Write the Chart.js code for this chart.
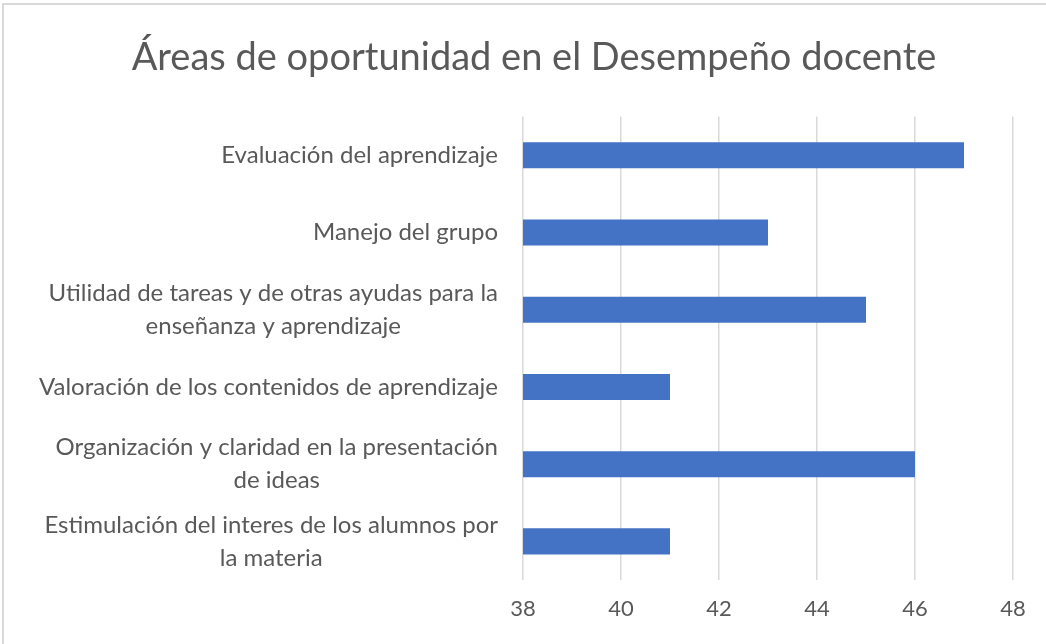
<!DOCTYPE html>
<html>
<head>
<meta charset="utf-8">
<script src="https://cdn.jsdelivr.net/npm/chart.js@4/dist/chart.umd.min.js"></script>
<style>
  html, body { margin: 0; padding: 0; background: #ffffff; }
  #wrap { position: relative; width: 1046px; height: 644px; }
</style>
</head>
<body>
<div id="wrap"><canvas id="chart"></canvas></div>
<script>
/* ── data ─────────────────────────────────────────────── */
const categories = [
  ["Evaluación del aprendizaje"],
  ["Manejo del grupo"],
  ["Utilidad de tareas y de otras ayudas para la", "enseñanza y aprendizaje"],
  ["Valoración de los contenidos de aprendizaje"],
  ["Organización y claridad en la presentación", "de ideas"],
  ["Estimulación del interes de los alumnos por", "la materia"],
];
const values = [47, 43, 45, 41, 46, 41];
const xTicks = [38, 40, 42, 44, 46, 48];
const chartTitle = "Áreas de oportunidad en el Desempeño docente";

/* ── style ────────────────────────────────────────────── */
const FONT = "Lato, 'Open Sans', sans-serif";
const TEXT = "#595959";
const GRID = "#d9d9d9";
const BAR = "#4472c4";

// frame of the chart area (top + left edge only, as in the capture)
const framePlugin = {
  id: "frame",
  beforeDraw(chart) {
    const ctx = chart.ctx;
    ctx.save();
    ctx.strokeStyle = GRID;
    ctx.lineWidth = 2;
    ctx.beginPath();
    ctx.moveTo(3, 644);
    ctx.lineTo(3, 4);
    ctx.lineTo(1046, 4);
    ctx.stroke();
    ctx.restore();
  },
};

// category labels: block right-aligned, wrapped lines centered in the block
const yLabelPlugin = {
  id: "yLabels",
  afterDraw(chart) {
    const ctx = chart.ctx;
    const y = chart.scales.y;
    const right = chart.chartArea.left - 25;
    const lineH = 33;
    ctx.save();
    ctx.font = "24px " + FONT;
    ctx.fillStyle = TEXT;
    ctx.textAlign = "center";
    ctx.textBaseline = "middle";
    categories.forEach((lines, i) => {
      const w = Math.max(...lines.map((l) => ctx.measureText(l).width));
      const cx = right - w / 2;
      const cy = y.getPixelForValue(i);
      const top = cy - ((lines.length - 1) * lineH) / 2;
      lines.forEach((l, k) => ctx.fillText(l, cx, top + k * lineH));
    });
    ctx.restore();
  },
};

new Chart(document.getElementById("chart"), {
  type: "bar",
  data: {
    labels: categories.map((c) => c.join(" ")),
    datasets: [
      {
        data: values,
        backgroundColor: BAR,
        borderWidth: 0,
        categoryPercentage: 1,
        barPercentage: 0.337,
      },
    ],
  },
  options: {
    indexAxis: "y",
    responsive: true,
    maintainAspectRatio: false,
    animation: false,
    layout: { padding: { top: 0, right: 33, bottom: 0, left: 55 } },
    plugins: {
      legend: { display: false },
      tooltip: { enabled: false },
      title: {
        display: true,
        text: chartTitle,
        color: TEXT,
        font: { family: FONT, size: 38, weight: "normal", lineHeight: 1.2 },
        padding: { top: 35, bottom: 36 },
      },
    },
    scales: {
      x: {
        min: 38,
        max: 48,
        afterBuildTicks: (s) => {
          s.ticks = xTicks.map((v) => ({ value: v }));
        },
        afterFit: (s) => {
          s.height = 64;
        },
        grid: { color: GRID, lineWidth: 1.5, drawTicks: false },
        border: { display: false },
        ticks: {
          color: TEXT,
          padding: 16,
          font: { family: FONT, size: 22 },
        },
      },
      y: {
        afterFit: (s) => {
          s.width = 468;
        },
        grid: { display: false },
        border: { display: false },
        ticks: { display: false },
      },
    },
  },
  plugins: [framePlugin, yLabelPlugin],
});
</script>
</body>
</html>
